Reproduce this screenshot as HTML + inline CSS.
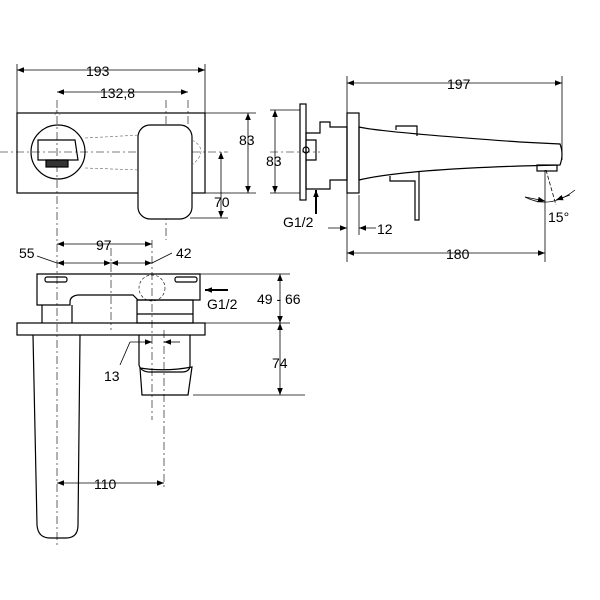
<!DOCTYPE html>
<html><head><style>body{margin:0;background:#fff}svg{display:block}</style></head><body>
<svg width="600" height="600" viewBox="0 0 600 600" xmlns="http://www.w3.org/2000/svg" font-family="Liberation Sans, sans-serif" font-size="14" fill="none" stroke="#000">
<defs><marker id="a" viewBox="0 0 10 10" refX="10" refY="5" markerWidth="9" markerHeight="7" orient="auto-start-reverse" markerUnits="userSpaceOnUse"><path d="M0,1 L10,5 L0,9z" fill="#000" stroke="none"/></marker></defs>
<g stroke-width="0.8">
<line x1="17" y1="64" x2="17" y2="113"/><line x1="205" y1="64" x2="205" y2="113"/>
<line x1="17" y1="70" x2="205" y2="70" marker-start="url(#a)" marker-end="url(#a)"/>
<line x1="57" y1="92" x2="188" y2="92" marker-start="url(#a)" marker-end="url(#a)"/>
<line x1="205" y1="113" x2="256" y2="113"/><line x1="193" y1="193" x2="256" y2="193"/>
<line x1="248" y1="113" x2="248" y2="193" marker-start="url(#a)" marker-end="url(#a)"/>
<line x1="221" y1="152" x2="221" y2="218" marker-start="url(#a)" marker-end="url(#a)"/>
<line x1="190" y1="218" x2="228" y2="218"/>
<line x1="270" y1="110" x2="300" y2="110"/><line x1="270" y1="193" x2="300" y2="193"/>
<line x1="275" y1="110" x2="275" y2="193" marker-start="url(#a)" marker-end="url(#a)"/>
</g>
<g stroke-width="0.6" stroke-dasharray="8 3 2 3">
<line x1="0" y1="152" x2="228" y2="152"/><line x1="166" y1="100" x2="166" y2="240"/>
<line x1="57" y1="100" x2="57" y2="545"/><line x1="188" y1="100" x2="188" y2="210"/>
<line x1="270" y1="152" x2="320" y2="152"/>
<line x1="152" y1="240" x2="152" y2="420"/><line x1="164" y1="330" x2="164" y2="490"/>
<line x1="111" y1="248" x2="111" y2="330"/>
</g>
<g stroke-width="1.2">
<rect x="17" y="113" width="188" height="80"/>
<circle cx="58" cy="152" r="27"/>
<path d="M38 140 L75 140 L78 160 L38 160z"/>
<rect x="46" y="160" width="22" height="7" fill="#333"/>
<rect x="138" y="125" width="54" height="94" rx="12" fill="#fff"/>
</g>
<g stroke-width="0.6" stroke-dasharray="3 2" stroke="#666">
<path d="M85 138 L140 135 M85 168 L140 170 M192 140 Q210 150 192 165 M60 115 Q57 105 55 115"/>
</g>
<!-- side view -->
<g stroke-width="0.8">
<line x1="347" y1="76" x2="347" y2="262"/><line x1="562" y1="76" x2="562" y2="160"/>
<line x1="347" y1="83" x2="562" y2="83" marker-start="url(#a)" marker-end="url(#a)"/>
<line x1="359" y1="195" x2="359" y2="235"/><line x1="545" y1="170" x2="545" y2="262"/>
<line x1="347" y1="253" x2="545" y2="253" marker-start="url(#a)" marker-end="url(#a)"/>
<line x1="328" y1="228" x2="347" y2="228" marker-end="url(#a)"/>
<line x1="376" y1="228" x2="359" y2="228" marker-end="url(#a)"/>
<line x1="316" y1="214" x2="316" y2="190" marker-end="url(#a)" stroke-width="2"/>
<path d="M525 197 Q550 210 575 190" />
<line x1="525" y1="197" x2="545" y2="201" marker-end="url(#a)"/>
<line x1="570" y1="195" x2="556" y2="200" marker-end="url(#a)"/>
<line x1="546" y1="170" x2="556" y2="205" stroke-dasharray="4 2"/>
</g>
<g stroke-width="1.2">
<rect x="300" y="104" width="6" height="96"/>
<path d="M306 133 L320 133 L320 122 L330 122 L330 127 L347 127 L347 180 L330 180 L330 189 L306 189z"/>
<path d="M306 140 L316 140 L316 160 L306 160"/><circle cx="306" cy="150" r="3"/>
<rect x="347" y="113" width="12" height="80"/>
<path d="M359 127 Q380 132 520 142 L560 144 Q564 154 560 165 L520 166 Q400 170 359 180z"/>
<path d="M396 130 L396 126 L417 126 L417 136"/>
<path d="M390 176 L390 181 L415 181 L415 220 L419 220 L419 172"/>
<rect x="537" y="165" width="20" height="6"/>
</g>
<!-- bottom view -->
<g stroke-width="0.8">
<line x1="57" y1="244" x2="152" y2="244" marker-start="url(#a)" marker-end="url(#a)"/>
<line x1="57" y1="263" x2="111" y2="263" marker-start="url(#a)" marker-end="url(#a)"/>
<line x1="111" y1="263" x2="152" y2="263" marker-start="url(#a)" marker-end="url(#a)"/>
<line x1="37" y1="256" x2="57" y2="263"/><line x1="152" y1="263" x2="172" y2="253"/>
<line x1="200" y1="274" x2="290" y2="274"/><line x1="205" y1="323" x2="290" y2="323"/>
<line x1="193" y1="395" x2="305" y2="395"/>
<line x1="280" y1="274" x2="280" y2="323" marker-start="url(#a)" marker-end="url(#a)"/>
<line x1="280" y1="323" x2="280" y2="395" marker-start="url(#a)" marker-end="url(#a)"/>
<line x1="228" y1="290" x2="205" y2="290" marker-end="url(#a)" stroke-width="2"/>
<line x1="130" y1="342" x2="152" y2="342" marker-end="url(#a)"/>
<line x1="180" y1="342" x2="164" y2="342" marker-end="url(#a)"/>
<line x1="130" y1="342" x2="120" y2="365"/>
<line x1="57" y1="483" x2="164" y2="483" marker-start="url(#a)" marker-end="url(#a)"/>
</g>
<g stroke-width="1.2">
<path d="M37 274 L200 274 L200 300 L138 300 L133 295 L78 295 Q70 296 70 302 L70 305 L37 305z"/>
<rect x="45" y="277" width="22" height="5" rx="2"/><rect x="175" y="277" width="22" height="5" rx="2"/>
<path d="M42 305 L42 323 M72 305 L72 323"/>
<rect x="137" y="300" width="56" height="23"/><line x1="137" y1="314" x2="193" y2="314"/>
<rect x="17" y="323" width="188" height="12"/>
<path d="M33 335 L37 525 Q38 538 50 538 L66 538 Q78 538 78 525 L80 335"/>
<path d="M139 335 L139 365 Q141 372 150 372 L182 372 Q190 372 190 365 L190 335"/>
<path d="M140 368 Q165 372 192 367 L188 395 L142 395z"/>
</g>
<circle cx="152" cy="288" r="13" stroke-width="0.6" stroke-dasharray="3 2"/>
<g fill="#000" stroke="none">
<text x="86" y="76">193</text>
<text x="100" y="98">132,8</text>
<text x="239" y="145">83</text>
<text x="214" y="207">70</text>
<text x="266" y="166">83</text>
<text x="283" y="227">G1/2</text>
<text x="447" y="89">197</text>
<text x="377" y="234">12</text>
<text x="446" y="259">180</text>
<text x="548" y="222">15°</text>
<text x="96" y="250">97</text>
<text x="19" y="258">55</text>
<text x="176" y="258">42</text>
<text x="207" y="309">G1/2</text>
<text x="257" y="304">49 - 66</text>
<text x="272" y="368">74</text>
<text x="104" y="381">13</text>
<text x="94" y="489">110</text>
</g>
</svg>
</body></html>
